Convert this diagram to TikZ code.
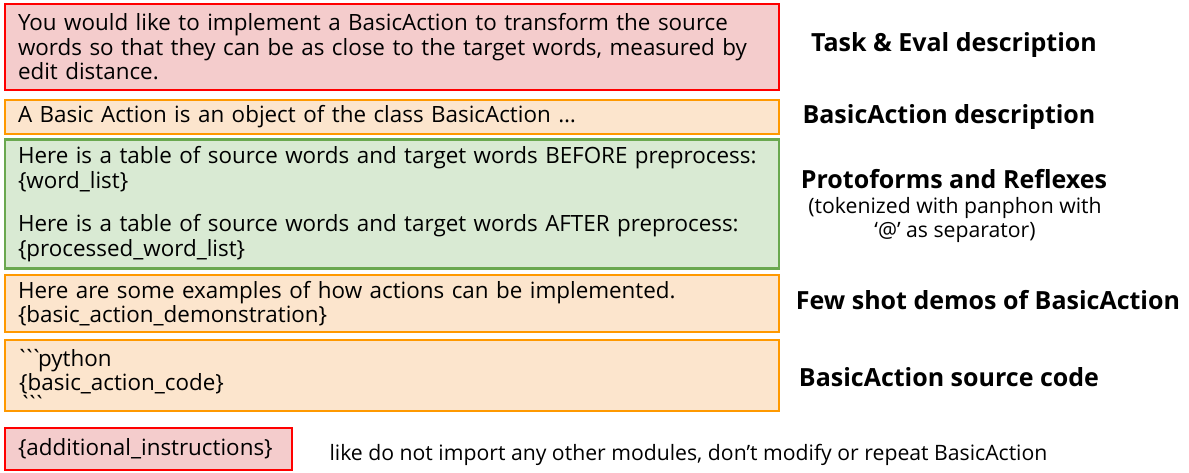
\documentclass[tikz,border=0pt]{standalone}
\usepackage{fontspec}
\setmainfont{Open Sans}
\hyphenpenalty=10000
\definecolor{redline}{HTML}{FF0000}
\definecolor{redfill}{HTML}{F4CCCC}
\definecolor{orangeline}{HTML}{FF9900}
\definecolor{orangefill}{HTML}{FCE5CD}
\definecolor{greenline}{HTML}{6AA84F}
\definecolor{greenfill}{HTML}{D9EAD3}
\newcommand{\ticks}{\kern-3pt\textasciigrave\kern-6pt\textasciigrave\kern-6pt\textasciigrave\kern-5pt}
\begin{document}
\begin{tikzpicture}[x=1pt, y=-1pt,
    box/.style={draw, line width=2.5pt, inner xsep=13pt, inner ysep=0pt, align=left,
        font=\fontsize{22.4}{24.5}\selectfont},
    redbox/.style={box, draw=redline, fill=redfill},
    orangebox/.style={box, draw=orangeline, fill=orangefill},
    greenbox/.style={box, draw=greenline, fill=greenfill},
    tag/.style={font=\fontsize{25}{29}\selectfont\bfseries},
    note/.style={font=\fontsize{21.2}{24}\selectfont}]
        \useasboundingbox (0,0) rectangle (1189,472);
        \node[redbox, text width=748pt, minimum height=86pt] (task) at (392,47)
            {You would like to implement a BasicAction to transform the source\\
             words so that they can be as close to the target words, measured by\\
             edit distance.};
        \node[orangebox, text width=748pt, minimum height=34pt] (action) at (392,117)
            {A Basic Action is an object of the class BasicAction \dots};
        \node[greenbox, text width=748pt, minimum height=129pt] (words) at (392,204)
            {Here is a table of source words and target words BEFORE preprocess:\\
             \{word\_list\}\\[19pt]
             Here is a table of source words and target words AFTER preprocess:\\
             \{processed\_word\_list\}};
        \node[orangebox, text width=748pt, minimum height=57pt] (demo) at (392,303.5)
            {Here are some examples of how actions can be implemented.\\
             \{basic\_action\_demonstration\}};
        % code block runs past the bottom of its box
        \node[orangebox, minimum width=774pt, minimum height=71pt] (code) at (392,375.5) {};
        \node[box, draw=none, inner sep=0pt, text width=748pt, anchor=north west] (codetext) at (18,348)
            {\ticks python\\
             \{basic\_action\_code\}\\
             \ticks};
        \node[redbox, text width=261pt, minimum height=42pt] (extra) at (148.5,449)
            {\{additional\_instructions\}};
        \node[note, anchor=west] (extranote) at (326,455)
            {like do not import any other modules, don’t modify or repeat BasicAction};
        % labels on the right
        \node[tag] (tasktag) at (954,45) {Task \& Eval description};
        \node[tag] (actiontag) at (949,117) {BasicAction description};
        \node[tag] (wordstag) at (954,179) {Protoforms and Reflexes};
        \node[note, align=center] (wordsnote) at (955,220) {(tokenized with panphon with\\‘@’ as separator)};
        \node[tag] (demotag) at (988,300) {Few shot demos of BasicAction};
        \node[tag] (codetag) at (949,377) {BasicAction source code};
\end{tikzpicture}
\end{document}
